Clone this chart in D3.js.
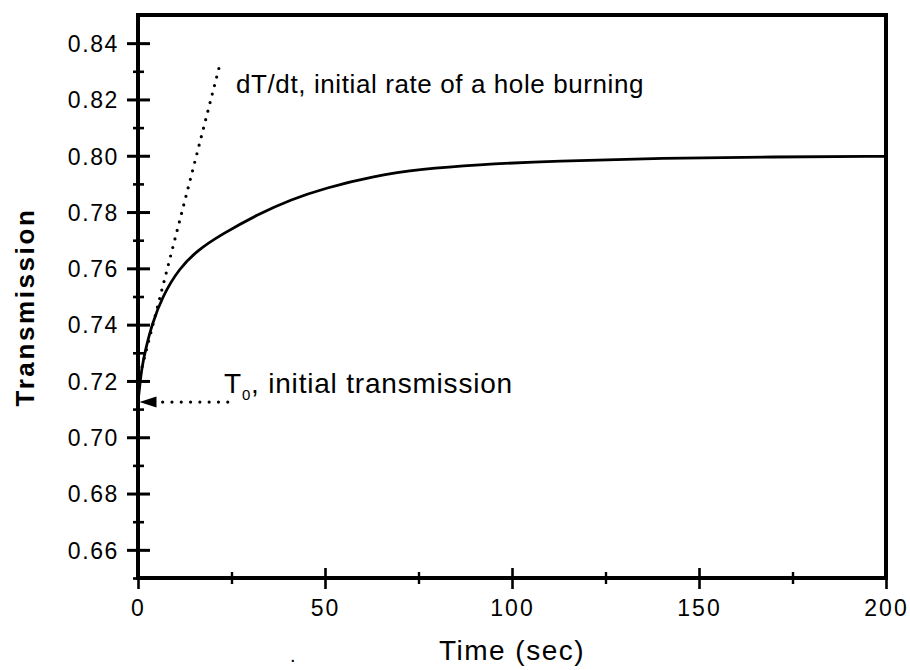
<!DOCTYPE html>
<html>
<head>
<meta charset="utf-8">
<script src="https://cdn.jsdelivr.net/npm/d3@7"></script>
<style>
  html, body { margin: 0; padding: 0; background: #fff; }
  svg { display: block; }
  text { font-family: "Liberation Sans", Arial, sans-serif; fill: #000; }
</style>
</head>
<body>
<svg id="chart" width="910" height="670"></svg>
<script>
// ---- data ----
const time = [0, 1, 2, 3.7, 6.5, 11, 16, 22, 32, 41, 50, 63, 76, 90, 112, 140, 170, 200];
const transmission = [0.7125, 0.725, 0.731, 0.740, 0.750, 0.760, 0.7665, 0.7718, 0.7792, 0.7845, 0.7885, 0.7928, 0.7953, 0.7968, 0.7982, 0.7991, 0.7996, 0.7998];
const tangentTime = [0.5, 22.2];
const tangentT = [0.722, 0.834];
const arrowTime = [24, 0.4];
const arrowT = [0.7125, 0.7125];
const xMajorTicks = [0, 50, 100, 150, 200];
const xMinorTicks = [25, 75, 125, 175];
const yMajorTicks = [0.66, 0.68, 0.70, 0.72, 0.74, 0.76, 0.78, 0.80, 0.82, 0.84];
const yMinorTicks = [0.65, 0.67, 0.69, 0.71, 0.73, 0.75, 0.77, 0.79, 0.81, 0.83];
const xLabel = "Time (sec)";
const yLabel = "Transmission";
const slopeNote = "dT/dt, initial rate of a hole burning";
const t0Note = ", initial transmission";

// ---- layout ----
const svg = d3.select("#chart");
const L = 138, R = 886, T = 15, B = 578;
const x = d3.scaleLinear().domain([0, 200]).range([L, R]);
const y = d3.scaleLinear().domain([0.65, 0.85]).range([B, T]);

// frame
svg.append("rect")
  .attr("x", L).attr("y", T).attr("width", R - L).attr("height", B - T)
  .attr("fill", "none").attr("stroke", "#000").attr("stroke-width", 4);

// y axis
const yAxisMajor = d3.axisLeft(y).tickValues(yMajorTicks).tickSizeInner(11).tickSizeOuter(0)
  .tickFormat(d3.format(".2f")).tickPadding(10);
const gy = svg.append("g").attr("transform", `translate(${L},0)`).call(yAxisMajor);
gy.select(".domain").remove();
gy.selectAll(".tick line").attr("x1", 12).attr("x2", -11).attr("stroke-width", 3);
gy.selectAll(".tick text").attr("font-size", 23).attr("letter-spacing", 1.6).attr("x", -19).attr("dy", "0.36em");
const gyMinor = svg.append("g").attr("transform", `translate(${L},0)`)
  .call(d3.axisLeft(y).tickValues(yMinorTicks).tickSize(5).tickFormat(""));
gyMinor.select(".domain").remove();
gyMinor.selectAll(".tick line").attr("x1", 6).attr("x2", -5).attr("stroke-width", 2.6);

// x axis
const gx = svg.append("g").attr("transform", `translate(0,${B})`)
  .call(d3.axisBottom(x).tickValues(xMajorTicks).tickSizeInner(10).tickSizeOuter(0).tickFormat(d3.format("d")).tickPadding(12));
gx.select(".domain").remove();
gx.selectAll(".tick line").attr("y1", -10).attr("y2", 11).attr("stroke-width", 2.6);
gx.selectAll(".tick text").attr("font-size", 23).attr("letter-spacing", 2);
const gxMinor = svg.append("g").attr("transform", `translate(0,${B})`)
  .call(d3.axisBottom(x).tickValues(xMinorTicks).tickSize(5).tickFormat(""));
gxMinor.select(".domain").remove();
gxMinor.selectAll(".tick line").attr("y1", -6).attr("y2", 6).attr("stroke-width", 2.4);

// axis titles
svg.append("text").attr("x", 512).attr("y", 660).attr("text-anchor", "middle")
  .attr("font-size", 28).attr("letter-spacing", 1.5).text(xLabel);
svg.append("text").attr("transform", "translate(34,307) rotate(-90)").attr("text-anchor", "middle")
  .attr("font-size", 26).attr("font-weight", "bold").attr("letter-spacing", 2.6).text(yLabel);
svg.append("text").attr("x", 290).attr("y", 662).attr("font-size", 20).text(".");

// curve
const pts = time.map((t, i) => [t, transmission[i]]);
svg.append("path").datum(pts)
  .attr("d", d3.line().x(d => x(d[0])).y(d => y(d[1])).curve(d3.curveBasis))
  .attr("fill", "none").attr("stroke", "#000").attr("stroke-width", 2.8);

// tangent dotted line
const tan = tangentTime.map((t, i) => [t, tangentT[i]]);
svg.append("path").datum(tan)
  .attr("d", d3.line().x(d => x(d[0])).y(d => y(d[1])))
  .attr("fill", "none").attr("stroke", "#000").attr("stroke-width", 3.2)
  .attr("stroke-linecap", "round").attr("stroke-dasharray", "0,8.8");

// arrow to T0
const arr = arrowTime.map((t, i) => [t, arrowT[i]]);
const ax0 = x(arr[0][0]), ax1 = x(arr[1][0]), ay = y(arr[0][1]);
svg.append("line").attr("x1", ax0).attr("y1", ay).attr("x2", ax1 + 20).attr("y2", ay)
  .attr("stroke", "#000").attr("stroke-width", 3.2).attr("stroke-linecap", "round")
  .attr("stroke-dasharray", "0,9.3");
svg.append("path")
  .attr("d", `M${ax1},${ay} L${ax1 + 17},${ay - 5.5} L${ax1 + 17},${ay + 5.5} Z`)
  .attr("fill", "#000");

// annotations
svg.append("text").attr("x", 236).attr("y", 93).attr("font-size", 26).attr("letter-spacing", 0.6).text(slopeNote);
const t0 = svg.append("text").attr("x", 224).attr("y", 393).attr("font-size", 28).attr("letter-spacing", 0.8);
t0.append("tspan").text("T");
t0.append("tspan").attr("font-size", 15).attr("dy", 7).text("0");
t0.append("tspan").attr("dy", -7).text(t0Note);
</script>
</body>
</html>
